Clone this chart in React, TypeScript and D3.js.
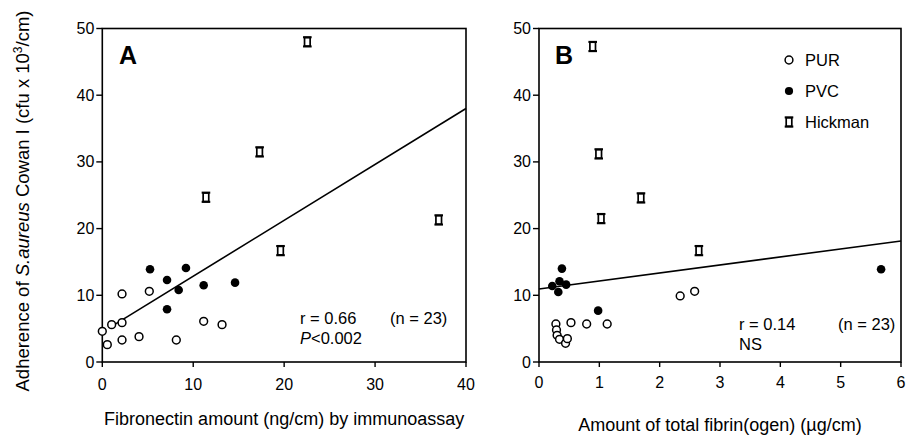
import React from "react";
import * as d3 from "d3";

const A_PUR_X = [0, 0.55, 1.03, 2.17, 2.17, 2.17, 4.04, 5.17, 8.14, 11.15, 13.17];
const A_PUR_Y = [4.6, 2.6, 5.6, 5.9, 10.2, 3.3, 3.8, 10.6, 3.3, 6.1, 5.6];
const A_PVC_X = [5.25, 7.12, 7.12, 8.4, 9.2, 11.15, 14.6];
const A_PVC_Y = [13.9, 12.3, 7.9, 10.8, 14.1, 11.5, 11.9];
const A_HICK_X = [22.55, 17.3, 11.4, 19.6, 37.0];
const A_HICK_Y = [48.0, 31.5, 24.7, 16.7, 21.3];
const A_FIT = { from: 0.8, to: 40, intercept: 4.48, slope: 0.838 };

const B_PUR_X = [0.28, 0.29, 0.3, 0.34, 0.44, 0.47, 0.53, 0.79, 1.13, 2.34, 2.58];
const B_PUR_Y = [5.7, 4.8, 4.0, 3.4, 2.8, 3.5, 5.9, 5.7, 5.7, 9.9, 10.6];
const B_PVC_X = [0.22, 0.38, 0.34, 0.32, 0.45, 0.98, 5.67];
const B_PVC_Y = [11.4, 14.0, 12.1, 10.5, 11.6, 7.7, 13.9];
const B_HICK_X = [0.89, 0.99, 1.69, 1.03, 2.65];
const B_HICK_Y = [47.3, 31.2, 24.6, 21.5, 16.7];
const B_FIT = { from: 0, to: 6, intercept: 10.95, slope: 1.2 };

const Y_TICKS = [0, 10, 20, 30, 40, 50];
const A_X_TICKS = [0, 10, 20, 30, 40];
const B_X_TICKS = [0, 1, 2, 3, 4, 5, 6];
const LEGEND = ["PUR", "PVC", "Hickman"];

const FONT = "'Liberation Sans', Arial, Helvetica, sans-serif";

function Hickman({ x, y }: { x: number; y: number }) {
  return (
    <g transform={`translate(${x},${y})`}>
      <rect x={-2.8} y={-4.3} width={5.6} height={8.6} fill="white" stroke="black" strokeWidth={1.7} />
      <line x1={-4.3} x2={4.3} y1={-4.6} y2={-4.6} stroke="black" strokeWidth={2.1} />
      <line x1={-4.3} x2={4.3} y1={4.6} y2={4.6} stroke="black" strokeWidth={2.1} />
    </g>
  );
}

type PanelProps = {
  left: number; right: number; top: number; bottom: number;
  xmax: number; xticks: number[];
  pur: [number[], number[]]; pvc: [number[], number[]]; hick: [number[], number[]];
  fit: { from: number; to: number; intercept: number; slope: number };
  letter: string; letterX: number;
  title: string; titleBaseline: number;
  tickBaseline: number;
  children?: React.ReactNode;
};

function Panel(p: PanelProps) {
  const x = d3.scaleLinear().domain([0, p.xmax]).range([p.left, p.right]);
  const y = d3.scaleLinear().domain([0, 50]).range([p.bottom, p.top]);
  const line = d3.line<number>().x((d) => x(d)).y((d) => y(p.fit.intercept + p.fit.slope * d));
  return (
    <g fontFamily={FONT}>
      <rect x={p.left} y={p.top} width={p.right - p.left} height={p.bottom - p.top} fill="none" stroke="black" strokeWidth={1.6} />
      {Y_TICKS.map((t) => (
        <g key={"y" + t}>
          <line x1={p.left - 6} x2={p.left} y1={y(t)} y2={y(t)} stroke="black" strokeWidth={1.4} />
          <text x={p.left - 8} y={y(t) + 5.5} textAnchor="end" fontSize={16}>{t}</text>
        </g>
      ))}
      {p.xticks.map((t) => (
        <g key={"x" + t}>
          <line x1={x(t)} x2={x(t)} y1={p.bottom} y2={p.bottom + 5} stroke="black" strokeWidth={1.4} />
          <text x={x(t)} y={p.tickBaseline} textAnchor="middle" fontSize={16}>{t}</text>
        </g>
      ))}
      <path d={line([p.fit.from, p.fit.to]) || ""} stroke="black" strokeWidth={1.6} fill="none" />
      {p.pur[0].map((v, i) => (
        <circle key={"pu" + i} cx={x(v)} cy={y(p.pur[1][i])} r={3.9} fill="white" stroke="black" strokeWidth={1.5} />
      ))}
      {p.pvc[0].map((v, i) => (
        <circle key={"pv" + i} cx={x(v)} cy={y(p.pvc[1][i])} r={4.3} fill="black" />
      ))}
      {p.hick[0].map((v, i) => (
        <Hickman key={"h" + i} x={x(v)} y={y(p.hick[1][i])} />
      ))}
      <text x={p.letterX} y={64} fontSize={25} fontWeight="bold">{p.letter}</text>
      <text x={(p.left + p.right) / 2} y={p.titleBaseline} textAnchor="middle" fontSize={18}>{p.title}</text>
      {p.children}
    </g>
  );
}

export default function App() {
  return (
    <svg width={917} height={438} style={{ position: "absolute", left: 0, top: 0, background: "white" }}>
      <rect width={917} height={438} fill="white" />
      <text transform="translate(29,201) rotate(-90)" textAnchor="middle" fontSize={18.5} fontFamily={FONT}>
        Adherence of <tspan fontStyle="italic">S.aureus</tspan> Cowan I (cfu x 10
        <tspan baselineShift="super" fontSize={12}>3</tspan>/cm)
      </text>
      <Panel
        left={102.3} right={466} top={28.5} bottom={362}
        xmax={40} xticks={A_X_TICKS}
        pur={[A_PUR_X, A_PUR_Y]} pvc={[A_PVC_X, A_PVC_Y]} hick={[A_HICK_X, A_HICK_Y]}
        fit={A_FIT} letter="A" letterX={119}
        title="Fibronectin amount (ng/cm) by immunoassay" titleBaseline={425}
        tickBaseline={390}
      >
        <text x={300} y={324} fontSize={16.5}>r = 0.66</text>
        <text x={390} y={324} fontSize={16.5}>(n = 23)</text>
        <text x={300} y={344} fontSize={16.5}><tspan fontStyle="italic">P</tspan>&lt;0.002</text>
      </Panel>
      <Panel
        left={539} right={901} top={28.5} bottom={362}
        xmax={6} xticks={B_X_TICKS}
        pur={[B_PUR_X, B_PUR_Y]} pvc={[B_PVC_X, B_PVC_Y]} hick={[B_HICK_X, B_HICK_Y]}
        fit={B_FIT} letter="B" letterX={555}
        title="Amount of total fibrin(ogen) (µg/cm)" titleBaseline={431}
        tickBaseline={388}
      >
        <text x={739} y={330} fontSize={16.5}>r = 0.14</text>
        <text x={838} y={330} fontSize={16.5}>(n = 23)</text>
        <text x={739} y={350} fontSize={16.5}>NS</text>
        {LEGEND.map((name, i) => (
          <g key={name} fontFamily={FONT}>
            {i === 0 && <circle cx={789} cy={60} r={3.9} fill="white" stroke="black" strokeWidth={1.5} />}
            {i === 1 && <circle cx={789} cy={91} r={4.1} fill="black" />}
            {i === 2 && <Hickman x={789} y={122} />}
            <text x={805} y={60 + i * 31 + 6} fontSize={16.5}>{name}</text>
          </g>
        ))}
      </Panel>
    </svg>
  );
}
